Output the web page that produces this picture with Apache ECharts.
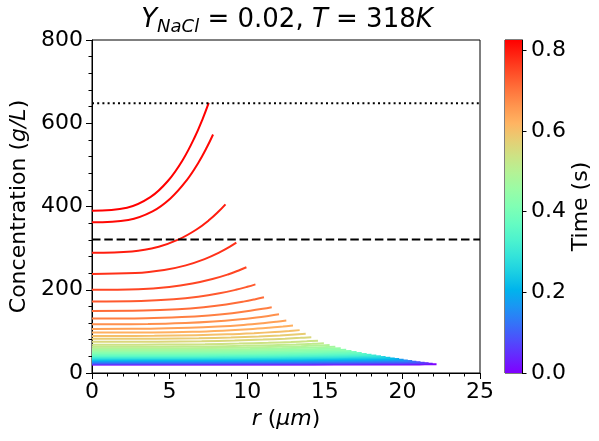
<!DOCTYPE html>
<html>
<head>
<meta charset="utf-8">
<script src="https://cdn.jsdelivr.net/npm/echarts@6/dist/echarts.min.js"></script>
<style>
  html, body { margin: 0; padding: 0; background: #ffffff; }
  #chart { width: 599px; height: 441px; }
</style>
</head>
<body>
<div id="chart"></div>
<script>
// Concentration profiles inside an evaporating NaCl droplet, one profile per output time.
// Output times (s)
const times = [0.000, 0.022, 0.043, 0.065, 0.086, 0.108, 0.129, 0.151, 0.172, 0.194,
               0.215, 0.237, 0.258, 0.280, 0.301, 0.323, 0.344, 0.366, 0.387, 0.409,
               0.430, 0.452, 0.473, 0.495, 0.516, 0.538, 0.559, 0.581, 0.602, 0.624,
               0.645, 0.667, 0.688, 0.710, 0.731, 0.753, 0.774, 0.796, 0.817, 0.825];
// Droplet radius at each output time (um)
const radii = [22.20, 21.95, 21.69, 21.43, 21.17, 20.90, 20.63, 20.35, 20.08, 19.79,
               19.51, 19.22, 18.92, 18.62, 18.32, 18.01, 17.70, 17.38, 17.05, 16.72,
               16.38, 16.03, 15.68, 15.31, 14.94, 14.56, 14.13, 13.77, 13.38, 12.95,
               12.52, 12.05, 11.58, 11.08, 10.53, 9.95, 9.30, 8.60, 7.80, 7.52];
// Radial sampling positions, as a fraction of the droplet radius
const radialFractions = [0, 0.3, 0.5, 0.65, 0.78, 0.88, 0.95, 1];
// Concentration (g/L) at each sampling position
const conc00 = [20.3, 20.9, 21.7, 22.6, 23.6, 24.7, 25.9, 27.2, 28.6, 29.9,
                31.3, 32.7, 34.2, 35.7, 37.3, 38.9, 40.7, 42.6, 44.8, 47.2,
                49.8, 52.6, 55.8, 59.2, 62.9, 68.0, 75.0, 82.0, 89.0, 97.0,
                106.0, 117.0, 131.0, 149.0, 172.0, 200.0, 238.0, 289.0, 362.0, 390.0];
const conc30 = [20.3, 20.9, 21.7, 22.7, 23.7, 24.8, 26.0, 27.3, 28.7, 30.0,
                31.4, 32.8, 34.3, 35.8, 37.4, 39.0, 40.8, 42.7, 44.9, 47.4,
                50.0, 52.8, 56.0, 59.4, 63.1, 68.3, 75.3, 82.3, 89.4, 97.5,
                106.5, 117.6, 131.7, 149.9, 173.1, 201.5, 240.0, 292.1, 367.7, 397.0];
const conc50 = [20.4, 21.1, 21.9, 22.8, 23.9, 25.0, 26.3, 27.6, 29.0, 30.4,
                31.8, 33.2, 34.7, 36.2, 37.9, 39.5, 41.3, 43.3, 45.5, 47.9,
                50.6, 53.4, 56.7, 60.2, 63.9, 69.2, 76.4, 83.5, 90.8, 99.1,
                108.5, 120.0, 134.4, 153.1, 177.1, 206.8, 247.4, 303.5, 388.4, 422.4];
const conc65 = [20.4, 21.3, 22.1, 23.1, 24.2, 25.4, 26.7, 28.1, 29.5, 30.9,
                32.3, 33.8, 35.3, 36.9, 38.5, 40.2, 42.0, 44.0, 46.3, 48.8,
                51.5, 54.4, 57.8, 61.3, 65.2, 70.6, 78.0, 85.3, 92.9, 101.7,
                111.5, 123.6, 138.4, 158.1, 183.3, 214.9, 258.6, 320.9, 420.0, 461.2];
const conc78 = [20.5, 21.6, 22.5, 23.5, 24.6, 25.9, 27.2, 28.7, 30.2, 31.6,
                33.1, 34.6, 36.1, 37.7, 39.4, 41.1, 43.0, 45.1, 47.4, 50.0,
                52.7, 55.8, 59.2, 62.9, 66.9, 72.6, 80.2, 87.7, 95.7, 105.1,
                115.5, 128.4, 143.8, 164.7, 191.5, 225.7, 273.6, 344.1, 462.2, 513.0];
const conc88 = [20.6, 21.9, 22.8, 23.9, 25.1, 26.4, 27.8, 29.3, 30.9, 32.4,
                33.8, 35.4, 37.0, 38.6, 40.4, 42.1, 44.0, 46.1, 48.5, 51.1,
                54.0, 57.2, 60.7, 64.5, 68.6, 74.5, 82.5, 90.2, 98.5, 108.6,
                119.6, 133.3, 149.4, 171.5, 199.9, 236.8, 289.1, 368.0, 505.7, 566.4];
const conc95 = [20.7, 22.1, 23.1, 24.2, 25.5, 26.8, 28.3, 29.9, 31.5, 33.0,
                34.5, 36.0, 37.7, 39.4, 41.2, 42.9, 44.9, 47.1, 49.5, 52.2,
                55.1, 58.3, 62.0, 65.9, 70.1, 76.2, 84.4, 92.3, 101.0, 111.6,
                123.1, 137.6, 154.1, 177.3, 207.1, 246.3, 302.3, 388.4, 542.8, 612.0];
const conc100 = [20.8, 22.3, 23.3, 24.5, 25.8, 27.2, 28.7, 30.3, 32.0, 33.5,
                 35.0, 36.6, 38.3, 40.0, 41.8, 43.6, 45.6, 47.8, 50.3, 53.0,
                 56.0, 59.3, 63.0, 67.0, 71.3, 77.6, 86.0, 94.0, 103.0, 114.0,
                 126.0, 141.0, 158.0, 182.0, 213.0, 254.0, 313.0, 405.0, 573.0, 649.0];
// Reference levels (g/L)
const saturationConc = 648;
const dashedLevelConc = 321;
// Axis ranges and ticks
const rMax = 25, rTick = 5;
const concMax = 800, concTick = 200;
const timeMax = 0.825, timeTick = 0.2;

// matplotlib "rainbow" colormap stops
const rainbow = ['#8000ff', '#6628fe', '#4d4ffc', '#3374f8', '#1a96f3', '#00b4ec',
                 '#1acee3', '#33e3da', '#4df3ce', '#66fcc2', '#80ffb4', '#99fca6',
                 '#b3f396', '#cce385', '#e6ce74', '#ffb462', '#ff964f', '#ff743c',
                 '#ff4f28', '#ff2814', '#ff0000'];

const FONT = 'DejaVu Sans';
const FS = 22;
const profileSets = [conc00, conc30, conc50, conc65, conc78, conc88, conc95, conc100];

const profileSeries = times.map((t, i) => ({
  type: 'line',
  xAxisIndex: 0,
  yAxisIndex: 0,
  data: radialFractions.map((f, j) => [f * radii[i], profileSets[j][i]]),
  showSymbol: false,
  symbol: 'none',
  smooth: 0.4,
  lineStyle: { width: 2, color: echarts.color.lerp(t / timeMax, rainbow) },
  silent: true,
  z: 2
}));

const levelSeries = [
  { level: saturationConc, dash: [2, 3.2] },
  { level: dashedLevelConc, dash: [8.5, 3.8] }
].map(d => ({
  type: 'line',
  xAxisIndex: 0,
  yAxisIndex: 0,
  data: [[0, d.level], [rMax, d.level]],
  showSymbol: false,
  symbol: 'none',
  lineStyle: { width: 2, color: '#000', type: d.dash },
  silent: true,
  z: 3
}));

const colorStops = rainbow.map((c, k) => ({ offset: k / (rainbow.length - 1), color: c }));

const nameRich = {
  i: { fontFamily: FONT, fontSize: FS, fontStyle: 'italic', color: '#000' },
  n: { fontFamily: FONT, fontSize: FS, color: '#000' }
};

const chart = echarts.init(document.getElementById('chart'), null, { renderer: 'canvas' });
chart.setOption({
  animation: false,
  backgroundColor: '#ffffff',
  textStyle: { fontFamily: FONT },
  graphic: [{
    type: 'text',
    x: 287,
    y: 20,
    style: {
      text: '{i|Y}{s|NaCl}{n| = 0.02, }{i|T}{n| = 318}{i|K}',
      align: 'center',
      verticalAlign: 'middle',
      fill: '#000',
      rich: {
        i: { fontFamily: FONT, fontSize: 26, fontStyle: 'italic', fill: '#000' },
        n: { fontFamily: FONT, fontSize: 26, fill: '#000' },
        s: { fontFamily: FONT, fontSize: 18, fontStyle: 'italic', fill: '#000', padding: [14, 0, 0, 0] }
      }
    }
  }],
  grid: [
    { left: 92, right: 119, top: 40, bottom: 68, show: true, borderColor: '#000', borderWidth: 1 },
    { left: 505, width: 17, top: 40, height: 333, show: true, borderColor: '#000', borderWidth: 1 }
  ],
  xAxis: [
    {
      type: 'value', gridIndex: 0, min: 0, max: rMax, interval: rTick,
      name: '{i|r} {n|(}{i|μm}{n|)}',
      nameLocation: 'middle', nameGap: 30,
      nameTextStyle: { fontFamily: FONT, fontSize: FS, color: '#000', rich: nameRich },
      axisLine: { show: true, lineStyle: { color: '#000', width: 1 } },
      axisTick: { show: true, inside: false, length: 6, lineStyle: { color: '#000', width: 1 } },
      minorTick: { show: true, splitNumber: 5, length: 3.5, lineStyle: { color: '#000', width: 1 } },
      axisLabel: { fontFamily: FONT, fontSize: FS, color: '#000', margin: 8 },
      splitLine: { show: false }
    },
    { type: 'category', gridIndex: 1, data: ['time'], show: false, boundaryGap: true }
  ],
  yAxis: [
    {
      type: 'value', gridIndex: 0, min: 0, max: concMax, interval: concTick,
      name: '{n|Concentration (}{i|g/L}{n|)}',
      nameLocation: 'middle', nameGap: 56,
      nameTextStyle: { fontFamily: FONT, fontSize: FS, color: '#000', rich: nameRich },
      axisLine: { show: true, lineStyle: { color: '#000', width: 1 } },
      axisTick: { show: true, inside: false, length: 6, lineStyle: { color: '#000', width: 1 } },
      minorTick: { show: true, splitNumber: 5, length: 3.5, lineStyle: { color: '#000', width: 1 } },
      axisLabel: { fontFamily: FONT, fontSize: FS, color: '#000', margin: 9 },
      splitLine: { show: false }
    },
    {
      type: 'value', gridIndex: 1, position: 'right', min: 0, max: timeMax, interval: timeTick,
      name: 'Time (s)', nameLocation: 'middle', nameGap: 48,
      nameTextStyle: { fontFamily: FONT, fontSize: FS, color: '#000' },
      axisLine: { show: true, lineStyle: { color: '#000', width: 1 } },
      axisTick: { show: true, inside: false, length: 4.5, lineStyle: { color: '#000', width: 1 } },
      axisLabel: { fontFamily: FONT, fontSize: FS, color: '#000', margin: 9,
                   formatter: v => v.toFixed(1) },
      splitLine: { show: false }
    }
  ],
  series: [
    ...profileSeries,
    ...levelSeries,
    {
      type: 'bar',
      xAxisIndex: 1,
      yAxisIndex: 1,
      data: [timeMax],
      barWidth: '100%',
      barCategoryGap: 0,
      silent: true,
      itemStyle: { color: new echarts.graphic.LinearGradient(0, 1, 0, 0, colorStops) }
    }
  ]
});
</script>
</body>
</html>
